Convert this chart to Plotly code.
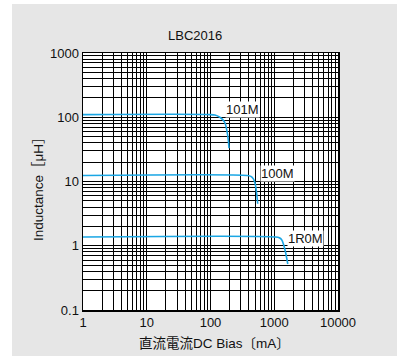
import math
import plotly.graph_objects as go

# Data
x_ticks = [1, 10, 100, 1000, 10000]
x_tick_labels = ["1", "10", "100", "1000", "10000"]
y_ticks = [0.1, 1, 10, 100, 1000]
y_tick_labels = ["0.1", "1", "10", "100", "1000"]

i_101M = [1, 100, 117, 140, 157, 170, 180, 190, 195]
L_101M = [110, 110, 108, 100, 91, 80, 63, 45, 33]

i_100M = [1, 380, 430, 470, 500, 525, 550]
L_100M = [12.4, 12.4, 12.0, 11.0, 9.4, 7.0, 4.5]

i_1R0M = [1, 1050, 1200, 1300, 1400, 1500, 1630]
L_1R0M = [1.37, 1.37, 1.33, 1.25, 1.05, 0.8, 0.52]

series = [("101M", i_101M, L_101M), ("100M", i_100M, L_100M), ("1R0M", i_1R0M, L_1R0M)]

W, H = 397, 356
ml, mr, mt, mb = 83, 59, 53, 46
pw, ph = W - ml - mr, H - mt - mb

def px_to_paper_x(px):
    return (px - ml) / pw

def px_to_paper_y(py):
    return (H - mb - py) / ph

fig = go.Figure()
for name, xs, ys in series:
    fig.add_trace(go.Scatter(x=xs, y=ys, mode="lines", name=name,
                             line=dict(color="#1aa6e4", width=1.6, shape="spline", smoothing=0.8),
                             showlegend=False, hoverinfo="skip"))

font = "Liberation Sans, Arial, sans-serif"
cjk_font = "Liberation Sans, Noto Sans CJK JP, sans-serif"
axis_common = dict(type="log", showgrid=True, gridcolor="#000000", gridwidth=1,
                   showline=True, linecolor="#000000", linewidth=1.5, mirror=True,
                   ticks="", zeroline=False,
                   tickfont=dict(family=font, size=13, color="#111111"),
                   minor=dict(showgrid=True, gridcolor="#000000", gridwidth=1, dtick="D1", ticks=""))

fig.update_xaxes(range=[0, 4], tickvals=x_ticks, ticktext=x_tick_labels, **axis_common)
fig.update_yaxes(range=[-1, 3], tickvals=y_ticks, ticktext=y_tick_labels, **axis_common)

annotations = [
    dict(text="LBC2016", x=px_to_paper_x(195), y=px_to_paper_y(35), xref="paper", yref="paper",
         xanchor="center", yanchor="middle",
         showarrow=False, font=dict(family=font, size=13, color="#111111")),
    dict(text="直流電流DC Bias〔mA〕", x=px_to_paper_x(214), y=px_to_paper_y(343), xref="paper", yref="paper",
         xanchor="center", yanchor="middle",
         showarrow=False, font=dict(family=cjk_font, size=13.5, color="#111111")),
    dict(text="Inductance［μH］", x=px_to_paper_x(39), y=px_to_paper_y(186), xref="paper", yref="paper",
         xanchor="center", yanchor="middle",
         showarrow=False, textangle=-90, font=dict(family=cjk_font, size=13.5, color="#111111")),
]
label_pos = {"101M": (312, 134), "100M": (1105, 13.1), "1R0M": (3036, 1.32)}
for name, _, _ in series:
    lx, ly = label_pos[name]
    annotations.append(dict(text=name, x=math.log10(lx), y=math.log10(ly), xref="x", yref="y",
                            xanchor="center", yanchor="middle",
                            showarrow=False, bgcolor="#ffffff", borderpad=0,
                            font=dict(family=font, size=13, color="#111111")))

shapes = [
    dict(type="rect", xref="paper", yref="paper", x0=px_to_paper_x(-5), x1=px_to_paper_x(12),
         y0=px_to_paper_y(H + 5), y1=px_to_paper_y(-5), fillcolor="#ffffff", line=dict(width=0), layer="below"),
    dict(type="rect", xref="paper", yref="paper", x0=px_to_paper_x(-5), x1=px_to_paper_x(W + 5),
         y0=px_to_paper_y(4), y1=px_to_paper_y(-5), fillcolor="#ffffff", line=dict(width=0), layer="below"),
]

fig.update_layout(width=W, height=H, margin=dict(l=ml, r=mr, t=mt, b=mb),
                  paper_bgcolor="#e6e6e6", plot_bgcolor="#ffffff",
                  annotations=annotations, shapes=shapes, hovermode=False)

fig.write_html("out.html", config={"displayModeBar": False, "staticPlot": True},
               post_script="document.body.style.margin='0';document.body.style.padding='0';document.body.style.overflow='hidden';")
